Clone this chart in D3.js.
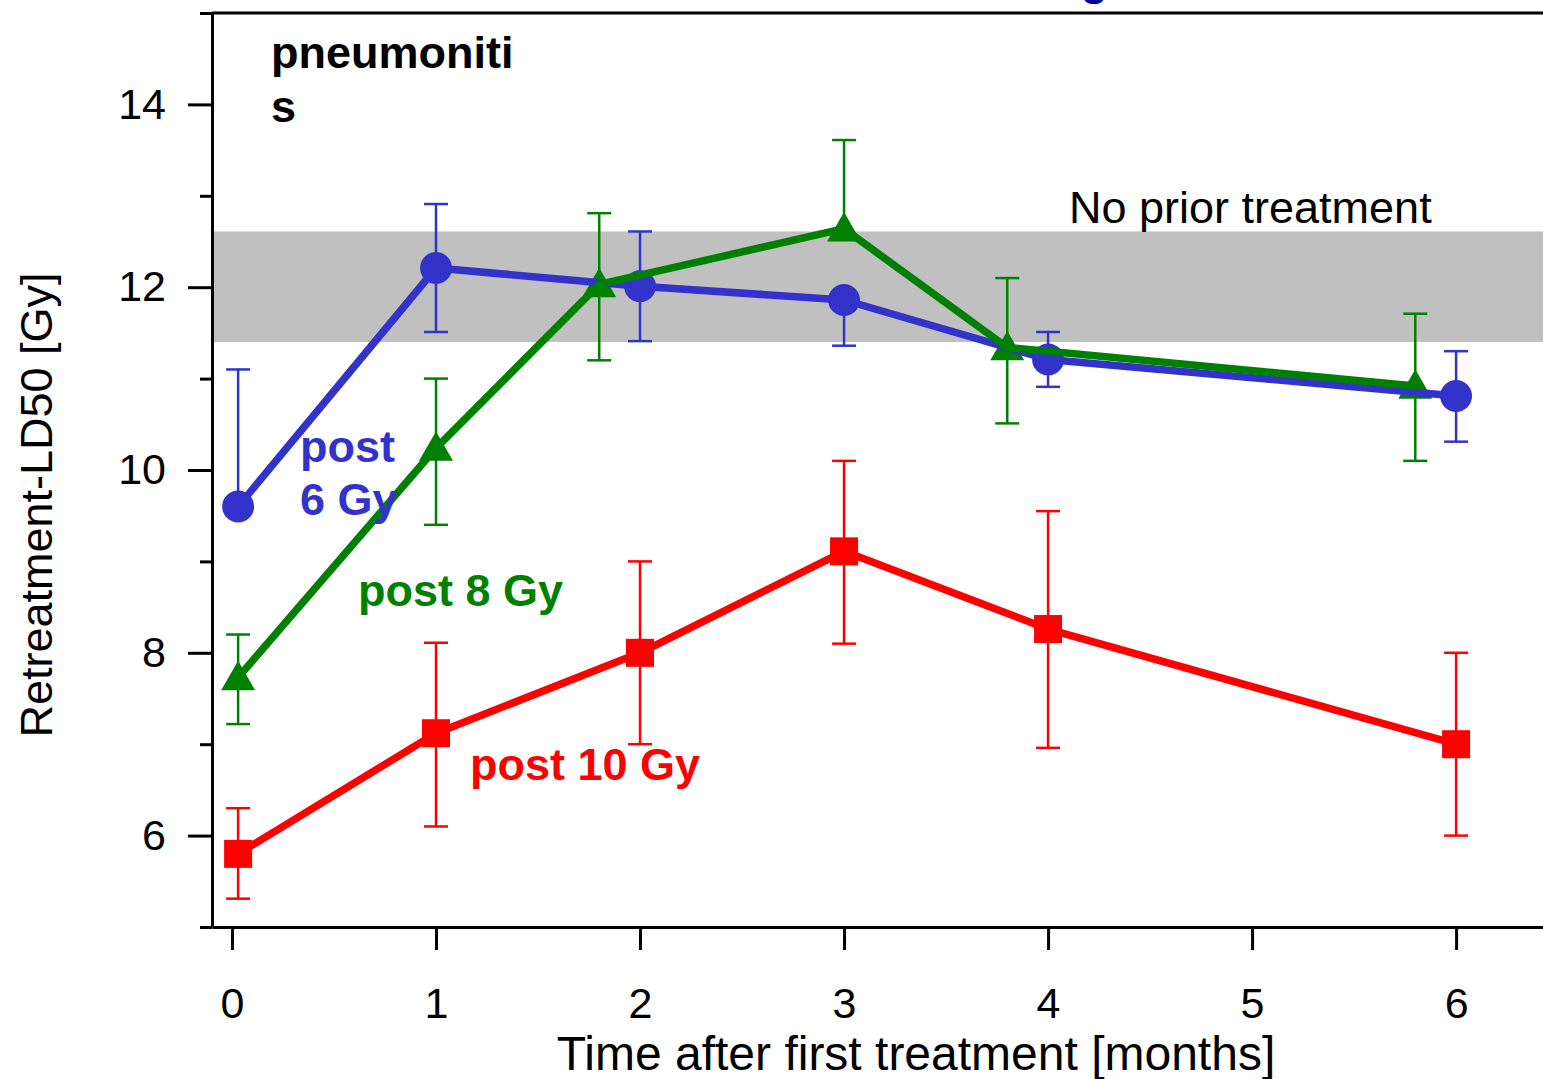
<!DOCTYPE html>
<html>
<head>
<meta charset="utf-8">
<script src="https://cdn.jsdelivr.net/npm/d3@7"></script>
<style>
  body { margin: 0; background: #fff; }
  svg text { font-family: "Liberation Sans", Arial, sans-serif; }
</style>
</head>
<body>
<div id="chart"></div>
<script>
// data
const months6 = [0.03, 1, 2, 3, 4, 6];
const ld50_6 = [9.6, 12.21, 12.01, 11.86, 11.21, 10.81];
const hi_6 = [11.1, 12.91, 12.61, null, 11.51, 11.3];
const lo_6 = [null, 11.51, 11.41, 11.36, 10.91, 10.31];

const months8 = [0.03, 1, 1.8, 3, 3.8, 5.8];
const ld50_8 = [7.73, 10.24, 12.03, 12.64, 11.34, 10.92];
const hi_8 = [8.2, 11.0, 12.81, 13.61, 12.1, 11.71];
const lo_8 = [7.22, 9.4, 11.2, null, 10.51, 10.1];

const months10 = [0.03, 1, 2, 3, 4, 6];
const ld50_10 = [5.8, 7.12, 8.0, 9.11, 8.26, 7.0];
const hi_10 = [6.3, 8.11, 9.0, 10.1, 9.55, 8.0];
const lo_10 = [5.31, 6.1, 7.0, 8.1, 6.96, 6.0];

const bandRange = [11.4, 12.61];   // no prior treatment
const xTicks = [0, 1, 2, 3, 4, 5, 6];
const yMajor = [6, 8, 10, 12, 14];
const yMinor = [5, 7, 9, 11, 13, 15];

const W = 1543, H = 1079;

const x = d3.scaleLinear().domain([-0.098, 6.426]).range([212, 1543]);
const y = d3.scaleLinear().domain([5, 15]).range([927, 13]);

const svg = d3.select("#chart").append("svg")
    .attr("width", W)
    .attr("height", H);

// cut-off title (only the descender shows in the reference)
svg.append("text")
    .attr("x", 1081)
    .attr("y", -5)
    .style("font-size", "44px")
    .style("font-weight", "bold")
    .style("fill", "#000099")
    .text("g");

// grey band
svg.append("rect")
    .attr("x", x(-0.098))
    .attr("y", y(bandRange[1]))
    .attr("width", x(6.426) - x(-0.098))
    .attr("height", y(bandRange[0]) - y(bandRange[1]))
    .style("fill", "#c0c0c0");

svg.append("text")
    .attr("x", 1069)
    .attr("y", 223)
    .style("font-size", "45px")
    .text("No prior treatment");

// axes
const xAxis = d3.axisBottom(x).tickValues(xTicks).tickFormat(d3.format("d"))
    .tickSize(23).tickSizeOuter(0).tickPadding(37);
const yAxis = d3.axisLeft(y).tickValues(yMajor).tickFormat(d3.format("d"))
    .tickSize(24).tickSizeOuter(0).tickPadding(22);
const yAxisMinor = d3.axisLeft(y).tickValues(yMinor).tickSize(12).tickSizeOuter(0).tickFormat("");

const gx = svg.append("g").attr("transform", "translate(0," + y(5) + ")").call(xAxis);
const gy = svg.append("g").attr("transform", "translate(" + x(-0.098) + ",0)").call(yAxis);
const gy2 = svg.append("g").attr("transform", "translate(" + x(-0.098) + ",0)").call(yAxisMinor);
gy2.select(".domain").remove();

[gx, gy, gy2].forEach(g => {
    g.selectAll("path, line").style("stroke", "#000").style("stroke-width", 3);
    g.selectAll("text").style("font-size", "43px").style("fill", "#000")
        .style("font-family", "'Liberation Sans', Arial, sans-serif");
});

// top frame line
svg.append("line")
    .attr("x1", x(-0.098)).attr("x2", x(6.426))
    .attr("y1", y(15)).attr("y2", y(15))
    .style("stroke", "#000").style("stroke-width", 3);

// axis titles
svg.append("text")
    .attr("x", 916)
    .attr("y", 1070)
    .attr("text-anchor", "middle")
    .style("font-size", "48px")
    .text("Time after first treatment [months]");

svg.append("text")
    .attr("transform", "translate(52,505) rotate(-90)")
    .attr("text-anchor", "middle")
    .style("font-size", "45px")
    .text("Retreatment-LD50 [Gy]");

svg.append("text").attr("x", 271).attr("y", 68)
    .style("font-size", "45px").style("font-weight", "bold").text("pneumoniti");
svg.append("text").attr("x", 271).attr("y", 122)
    .style("font-size", "45px").style("font-weight", "bold").text("s");

const series = [
    { key: "6", months: months6, vals: ld50_6, hi: hi_6, lo: lo_6, color: "#3333cc", shape: d3.symbolCircle, size: 800 },
    { key: "8", months: months8, vals: ld50_8, hi: hi_8, lo: lo_8, color: "#008000", shape: d3.symbolTriangle, size: 500 },
    { key: "10", months: months10, vals: ld50_10, hi: hi_10, lo: lo_10, color: "#ff0000", shape: d3.symbolSquare, size: 784 }
];

const line = d3.line().x(d => x(d.m)).y(d => y(d.v));

series.forEach(s => {
    s.points = s.months.map((m, i) => ({ m: m, v: s.vals[i], hi: s.hi[i], lo: s.lo[i] }));
});

// error bars
series.forEach(s => {
    const g = svg.append("g").style("stroke", s.color).style("stroke-width", 2.5);
    s.points.forEach(p => {
        const top = p.hi == null ? p.v : p.hi;
        const bot = p.lo == null ? p.v : p.lo;
        g.append("line").attr("x1", x(p.m)).attr("x2", x(p.m)).attr("y1", y(top)).attr("y2", y(bot));
        if (p.hi != null) g.append("line").attr("x1", x(p.m) - 12).attr("x2", x(p.m) + 12).attr("y1", y(p.hi)).attr("y2", y(p.hi));
        if (p.lo != null) g.append("line").attr("x1", x(p.m) - 12).attr("x2", x(p.m) + 12).attr("y1", y(p.lo)).attr("y2", y(p.lo));
    });
});

// markers, then lines on top
series.forEach(s => {
    svg.append("g").selectAll("path")
        .data(s.points)
        .enter().append("path")
        .attr("transform", d => "translate(" + x(d.m) + "," + (y(d.v) + (s.shape === d3.symbolTriangle ? 3 : 0)) + ")")
        .attr("d", d3.symbol().type(s.shape).size(s.size))
        .style("fill", s.color);
});

series.forEach(s => {
    svg.append("path")
        .datum(s.points)
        .attr("d", line)
        .style("fill", "none")
        .style("stroke", s.color)
        .style("stroke-width", 7.5)
        .style("stroke-linejoin", "round");
});

// series labels
const labels = [
    { lines: ["post", "6 Gy"], x: 300, y: 462, color: "#3333cc" },
    { lines: ["post 8 Gy"], x: 358, y: 606, color: "#008000" },
    { lines: ["post 10 Gy"], x: 470, y: 780, color: "#ff0000" }
];
labels.forEach(l => {
    l.lines.forEach((t, i) => {
        svg.append("text")
            .attr("x", l.x)
            .attr("y", l.y + i * 53)
            .style("font-size", "45px")
            .style("font-weight", "bold")
            .style("fill", l.color)
            .text(t);
    });
});
</script>
</body>
</html>
